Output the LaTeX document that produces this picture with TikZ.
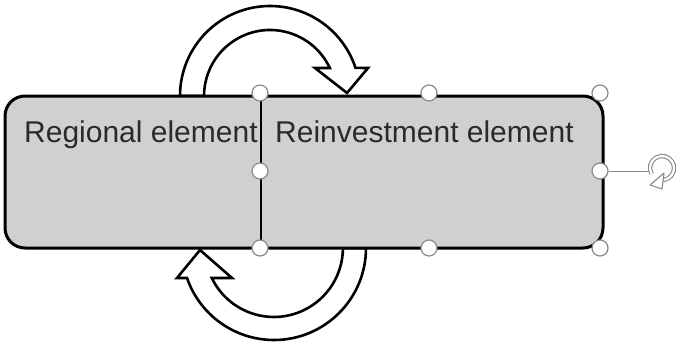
\documentclass[tikz,border=0pt]{standalone}
\usepackage{fontspec}
\setmainfont{Liberation Sans}
\definecolor{boxfill}{HTML}{D0D0D0}
\definecolor{txt}{HTML}{2A2A2A}
\definecolor{hgray}{HTML}{8A8A8A}
\begin{document}
\begin{tikzpicture}[x=1pt,y=-1pt,
  cyclearrow/.style={draw=black, fill=white, line width=2.6pt, line join=miter},
  label/.style={anchor=base west, inner sep=0pt, text=txt, font=\fontsize{30}{33}\selectfont},
  handle/.style={circle, draw=hgray, fill=white, line width=1.2pt, minimum size=16pt, inner sep=0pt}]
\useasboundingbox (0,0) rectangle (685,345);
% top cycle arrow
\draw[cyclearrow] (180,96) arc[start angle=180, end angle=341.8, radius=90]
  -- (368,68) -- (347,93) -- (315,68) -- (329.8,68)
  arc[start angle=334.9, end angle=180, radius=66] -- cycle;
% bottom cycle arrow
\draw[cyclearrow] (366,248) arc[start angle=0, end angle=161, radius=92]
  -- (177,278) -- (200,250) -- (232,278) -- (211.8,278)
  arc[start angle=154.2, end angle=0, radius=69] -- cycle;
% box
\draw[fill=boxfill, line width=3pt, rounded corners=20pt] (5,96) rectangle (603,248);
\draw[line width=2.6pt] (261,96) -- (261,248);
\node[label] (reg) at (24,142) {Regional element};
\node[label] (rein) at (275,142) {Reinvestment element};
% selection handles
\node[handle] (h1) at (260,93) {};
\node[handle] (h2) at (429,93) {};
\node[handle] (h3) at (600,93) {};
\node[handle] (h4) at (260,171) {};
\node[handle] (h5) at (600,171) {};
\node[handle] (h6) at (260,248) {};
\node[handle] (h7) at (429,248) {};
\node[handle] (h8) at (600,248) {};
% rotation handle
\coordinate (rot) at (650,171);
\draw[hgray, line width=1pt] (h5) -- (rot);
\draw[hgray, line width=1.1pt, double=white, double distance=2.2pt]
  (662,168) ++(150:12) arc[start angle=150, end angle=445, radius=12];
\draw[hgray, line width=1.1pt, fill=white, line join=round]
  (664,173) -- (662,189) -- (650,185) -- cycle;
\end{tikzpicture}
\end{document}
